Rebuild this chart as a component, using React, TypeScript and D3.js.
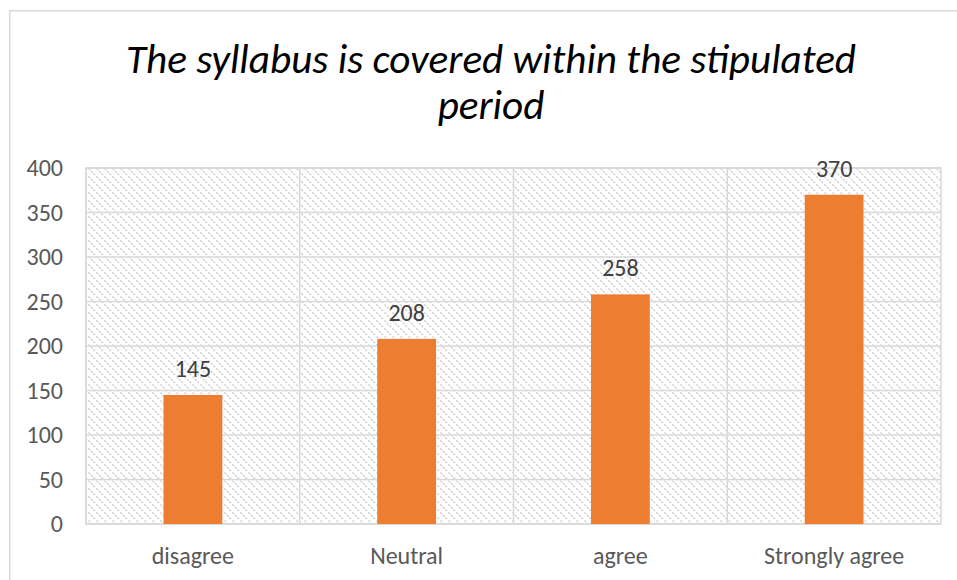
import React from "react";
import * as d3 from "d3";

const categories = ["disagree", "Neutral", "agree", "Strongly agree"];
const values = [145, 208, 258, 370];
const yTicks = [0, 50, 100, 150, 200, 250, 300, 350, 400];
const titleLines = ["The syllabus is covered within the stipulated", "period"];

const W = 957;
const H = 580;
const plot = { left: 86, right: 941, top: 168, bottom: 524 };

export default function App() {
  const x = d3
    .scaleBand<string>()
    .domain(categories)
    .range([plot.left, plot.right])
    .paddingInner(0)
    .paddingOuter(0);
  const y = d3.scaleLinear().domain([0, 400]).range([plot.bottom, plot.top]);
  const barW = x.bandwidth() * 0.275;
  const font = "Carlito, Calibri, 'Open Sans', sans-serif";

  return (
    <svg
      width={W}
      height={H}
      style={{ position: "absolute", left: 0, top: 0, display: "block", background: "#fff" }}
    >
      <defs>
        <pattern id="hatch" width="8" height="8" patternUnits="userSpaceOnUse">
          <path d="M-2,-2 L10,10 M-2,6 L2,10 M6,-2 L10,2" stroke="#cccccc" strokeWidth="1.3" strokeDasharray="2.2,1.3" />
        </pattern>
      </defs>
      <rect x={9.75} y={10.75} width={980} height={600} fill="#fff" stroke="#d9d9d9" strokeWidth={1.5} />
      <g fontFamily={font} fontStyle="italic" fontSize={41.2} fill="#000" textAnchor="middle">
        {titleLines.map((t, i) => (
          <text key={i} x={491} y={73 + i * 46}>
            {t}
          </text>
        ))}
      </g>
      <rect
        x={plot.left}
        y={plot.top}
        width={plot.right - plot.left}
        height={plot.bottom - plot.top}
        fill="url(#hatch)"
        stroke="#d9d9d9"
        strokeWidth={1.5}
      />
      {yTicks.map((t) => (
        <line key={"g" + t} x1={plot.left} x2={plot.right} y1={y(t)} y2={y(t)} stroke="#d9d9d9" strokeWidth={1.5} />
      ))}
      {categories.map((c) => (
        <line
          key={"v" + c}
          x1={x(c)!}
          x2={x(c)!}
          y1={plot.top}
          y2={plot.bottom}
          stroke="#d9d9d9"
          strokeWidth={1.5}
        />
      ))}
      <g fontFamily={font} fontSize={24} fill="#595959" textAnchor="end">
        {yTicks.map((t) => (
          <text key={"t" + t} x={63} y={y(t) + 8}>
            {t}
          </text>
        ))}
      </g>
      {categories.map((c, i) => {
        const cx = x(c)! + x.bandwidth() / 2;
        return (
          <g key={"b" + c}>
            <rect x={cx - barW / 2} y={y(values[i])} width={barW} height={y(0) - y(values[i])} fill="#ED7D31" />
            <text
              x={cx}
              y={y(values[i]) - 18}
              textAnchor="middle"
              fontFamily={font}
              fontSize={24}
              fill="#404040"
            >
              {values[i]}
            </text>
            <text x={cx} y={564} textAnchor="middle" fontFamily={font} fontSize={24} fill="#595959">
              {c}
            </text>
          </g>
        );
      })}
    </svg>
  );
}
